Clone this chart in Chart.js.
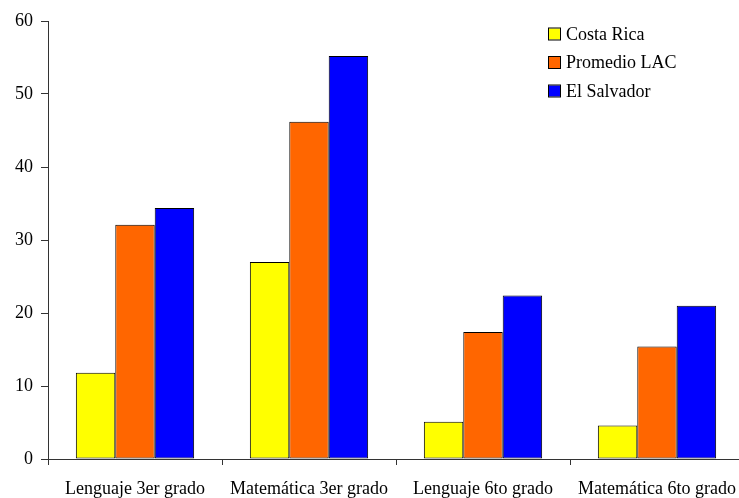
<!DOCTYPE html>
<html>
<head>
<meta charset="utf-8">
<script src="https://cdn.jsdelivr.net/npm/chart.js@4"></script>
<style>
  html, body { margin: 0; padding: 0; background: #fff; overflow: hidden; }
  #grafico { display: block; }
</style>
</head>
<body>
<canvas id="grafico" width="739" height="498"></canvas>
<script>
// categorías y valores por país
const categorias = ["Lenguaje 3er grado", "Matemática 3er grado", "Lenguaje 6to grado", "Matemática 6to grado"];
const costaRica = [11.8, 27.0, 5.1, 4.6];
const promedioLAC = [32.1, 46.2, 17.4, 15.4];
const elSalvador = [34.4, 55.2, 22.4, 21.0];
const marcasY = [0, 10, 20, 30, 40, 50, 60];

const fuente = "'Liberation Serif', 'Times New Roman', serif";

// el eje x continúa unos píxeles más allá del borde derecho del canvas
const ejeExtendido = {
  id: "ejeExtendido",
  afterLayout(chart) {
    const x = chart.scales.x;
    const derecha = chart.width + 5;
    x.right = derecha;
    x.width = derecha - x.left;
    chart.chartArea.right = derecha;
    chart.chartArea.width = derecha - chart.chartArea.left;
    x.configure();
  }
};

// leyenda dibujada dentro del área del gráfico (arriba a la derecha)
const leyendaInterna = {
  id: "leyendaInterna",
  afterDraw(chart) {
    const ctx = chart.ctx;
    ctx.save();
    ctx.font = "18px " + fuente;
    ctx.textBaseline = "middle";
    chart.data.datasets.forEach(function(ds, i) {
      const y = 34 + i * 28.5;
      ctx.fillStyle = ds.backgroundColor;
      ctx.fillRect(549, y - 5.5, 11, 11);
      ctx.strokeStyle = "#000";
      ctx.lineWidth = 1;
      ctx.strokeRect(548.5, y - 6, 12, 12);
      ctx.fillStyle = "#000";
      ctx.fillText(ds.label, 566, y + 1);
    });
    ctx.restore();
  }
};

const config = {
  type: "bar",
  data: {
    labels: categorias,
    datasets: [
      { label: "Costa Rica", data: costaRica, backgroundColor: "#ffff00" },
      { label: "Promedio LAC", data: promedioLAC, backgroundColor: "#ff6600" },
      { label: "El Salvador", data: elSalvador, backgroundColor: "#0000ff" }
    ].map(function(ds) {
      return Object.assign(ds, {
        borderColor: "#000",
        borderWidth: 1,
        borderSkipped: false,
        categoryPercentage: 0.68,
        barPercentage: 1.0
      });
    })
  },
  plugins: [ejeExtendido, leyendaInterna],
  options: {
    responsive: false,
    devicePixelRatio: 1,
    animation: false,
    layout: { padding: { top: 21, right: 0, left: 0, bottom: 0 } },
    plugins: {
      legend: { display: false },
      tooltip: { enabled: false }
    },
    scales: {
      x: {
        grid: {
          offset: true,
          drawOnChartArea: false,
          tickLength: 6,
          color: "#333"
        },
        border: { color: "#333", width: 1 },
        ticks: {
          color: "#000",
          padding: 13,
          maxRotation: 0,
          autoSkip: false,
          font: { family: fuente, size: 18 }
        },
        afterFit(scale) {
          scale.height = 39;
          scale.paddingLeft = 0;
          scale.paddingRight = 0;
        }
      },
      y: {
        min: 0,
        max: 60,
        afterBuildTicks(scale) {
          scale.ticks = marcasY.map(function(v) { return { value: v }; });
        },
        grid: {
          drawOnChartArea: false,
          tickLength: 7,
          color: "#333"
        },
        border: { color: "#333", width: 1 },
        ticks: {
          color: "#000",
          padding: 8,
          font: { family: fuente, size: 18 }
        },
        afterFit(scale) { scale.width = 48; }
      }
    }
  }
};

const ctx = document.getElementById("grafico").getContext("2d");
const grafico = new Chart(ctx, config);
</script>
</body>
</html>
